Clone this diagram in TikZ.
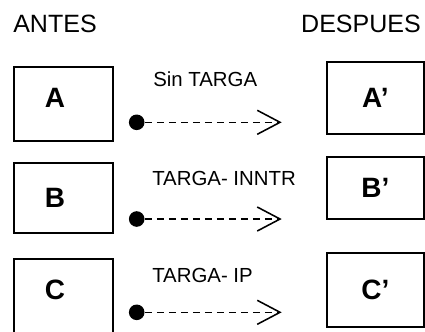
\documentclass[tikz,border=0pt]{standalone}
\usepackage{fontspec}
\setmainfont{Liberation Sans}
\usepackage{tikz}
\usetikzlibrary{arrows.meta,positioning}
\tikzset{
    caja/.style ={rectangle, draw, line width=1.4pt, minimum width=2.475cm, minimum height=1.85cm, font=\fontsize{19.9}{22}\bfseries},
    punto/.style = {circle, fill, inner sep=0pt, minimum size=0.39cm},
    flecha/.style={-{Straight Barb[length=0.57cm,width=0.6cm]}, dash pattern=on 0.175cm off 0.125cm, line width=1.1pt},
    etiq/.style = {anchor=west, inner sep=0pt, font=\fontsize{14.5}{16}\selectfont},
    titulo/.style = {inner sep=0pt, font=\fontsize{17.8}{20}\selectfont}
}

\begin{document}
\begin{tikzpicture}[x=0.025cm,y=-0.025cm]
    \useasboundingbox (0,0) rectangle (425,331);

    % Titulos
    \node[titulo] (antes) at (55,24) {ANTES};
    \node[titulo] (despues) at (361,24) {DESPUES};

    %%Cajas antes
    \node[caja, text depth=0.3cm] (a) at (63.5,104) {A\hspace*{0.42cm}};
    \node[caja, minimum height=1.75cm] (b) at (63.5,197.7) {B\hspace*{0.42cm}};
    \node[caja, text depth=0.3cm] (c) at (63.5,296) {C\hspace*{0.42cm}};

    %%Cajas despues
    \node[caja, minimum width=2.43cm, minimum height=1.81cm] (a2) at (375.3,97.9) {A'};
    \node[caja, minimum width=2.43cm, minimum height=1.56cm] (b2) at (375.3,187.9) {B'};
    \node[caja, minimum width=2.43cm, minimum height=1.86cm] (c2) at (375.3,289.9) {C'};

    % Flechas
    \node[punto] (pa) at (136.7,122.3) {};
    \node[punto] (pb) at (136.7,219) {};
    \node[punto] (pc) at (136.7,312.3) {};
    \coordinate (fa) at (281.7,122.3);
    \coordinate (fb) at (281.7,219);
    \coordinate (fc) at (281.7,312.3);

    \node[etiq] (la) at (153,79.5) {Sin TARGA};
    \node[etiq] (lb) at (152,178) {TARGA- INNTR};
    \node[etiq] (lc) at (152,275.5) {TARGA- IP};

    \draw[flecha] (pa) -- (fa);
    \draw[flecha] (pb) -- (fb);
    \draw[flecha] (pc) -- (fc);
\end{tikzpicture}
\end{document}
